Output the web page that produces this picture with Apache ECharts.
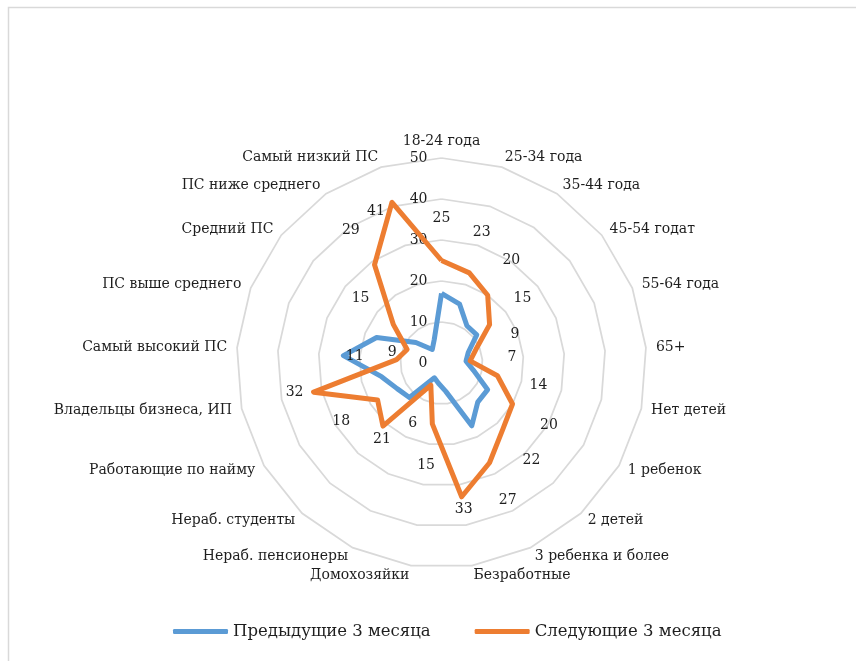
<!DOCTYPE html>
<html><head><meta charset="utf-8">
<script src="https://cdn.jsdelivr.net/npm/echarts@6/dist/echarts.min.js"></script>
<style>html,body{margin:0;padding:0;background:#fff}#c{width:856px;height:661px}</style>
</head><body><div id="c"></div>
<script>
const categories = ['18-24 года','25-34 года','35-44 года','45-54 годат','55-64 года','65+','Нет детей','1 ребенок','2 детей','3 ребенка и более','Безработные','Домохозяйки','Нераб. пенсионеры','Нераб. студенты','Работающие по найму','Владельцы бизнеса, ИП','Самый высокий ПС','ПС выше среднего','Средний ПС','ПС ниже среднего','Самый низкий ПС'];
const previous3m = [17,15,11,11,7,6,8,13,13,17,7,5,4,11.5,12.5,15,24,17,8,4,6];
const next3m = [25,23,20,15,9,7,14,20,22,27,33,15,6,21,18,32,11,9,15,29,41];
const seriesNames = ['Предыдущие 3 месяца','Следующие 3 месяца'];
const axisMin = 0, axisMax = 50, axisStep = 10;

const FONT = 'DejaVu Serif';
const TXT = '#1e1e1e';
const CENTER = [441.5, 363], RADIUS = 205;
const n = categories.length;
// ECharts radar runs counter-clockwise; reorder so categories run clockwise
const order = [0].concat(Array.from({length: n - 1}, (_, i) => n - 1 - i));
const cw = arr => order.map(i => arr[i]);

// data-label placement (pixel offsets): radial by default, a few moved as in the original
const labelAdjust = {10: [2, 13], 13: [-1, 13], 15: [-19, 0], 17: [-15, 3], 20: [-16, 9]};
const labelData = next3m.map((v, k) => {
  const a = k * 2 * Math.PI / n;
  const off = labelAdjust[k] || [42 * Math.sin(a), -42 * Math.cos(a)];
  return {value: [v, k], label: {offset: off}};
});

const chart = echarts.init(document.getElementById('c'), null, {renderer: 'canvas'});
chart.setOption({
  animation: false,
  backgroundColor: '#fff',
  graphic: [{type: 'rect', silent: true, z: -10,
    shape: {x: 8.5, y: 7.5, width: 1000, height: 1000},
    style: {fill: 'none', stroke: '#d9d9d9', lineWidth: 1.5}}],
  legend: {
    data: seriesNames, left: 173, top: 623, padding: 0, itemWidth: 55, itemHeight: 5, itemGap: 44,
    icon: 'roundRect',
    textStyle: {fontFamily: FONT, fontSize: 16.5, color: TXT}
  },
  radar: {
    center: CENTER, radius: RADIUS, startAngle: 90, shape: 'polygon', splitNumber: 5,
    indicator: cw(categories).map(name => ({name, min: axisMin, max: axisMax})),
    nameGap: 10,
    axisName: {color: TXT, fontFamily: FONT, fontSize: 14},
    splitLine: {lineStyle: {color: '#d9d9d9', width: 1.75}},
    splitArea: {show: false},
    axisLine: {show: false}, axisTick: {show: false}, axisLabel: {show: false}
  },
  polar: {center: CENTER, radius: RADIUS},
  angleAxis: {type: 'value', min: 0, max: n, startAngle: 90, clockwise: true,
    axisLine: {show: false}, axisTick: {show: false}, axisLabel: {show: false}, splitLine: {show: false}},
  radiusAxis: {type: 'value', min: axisMin, max: axisMax, interval: axisStep,
    axisLine: {show: false}, axisTick: {show: false}, splitLine: {show: false},
    axisLabel: {color: TXT, fontFamily: FONT, fontSize: 14, margin: 14}},
  series: [
    {type: 'radar', name: seriesNames[0], symbol: 'none', z: 2,
      data: [{name: seriesNames[0], value: cw(previous3m)}],
      lineStyle: {color: '#5B9BD5', width: 5, join: 'round'}, itemStyle: {color: '#5B9BD5'}},
    {type: 'radar', name: seriesNames[1], symbol: 'none', z: 3,
      data: [{name: seriesNames[1], value: cw(next3m)}],
      lineStyle: {color: '#ED7D31', width: 5, join: 'round'}, itemStyle: {color: '#ED7D31'}},
    {type: 'scatter', coordinateSystem: 'polar', symbolSize: 0, silent: true, z: 4,
      itemStyle: {opacity: 1, color: 'transparent'},
      data: labelData,
      label: {show: true, position: 'inside', formatter: p => String(p.value[0]),
        color: TXT, fontFamily: FONT, fontSize: 14, opacity: 1}}
  ]
});
</script></body></html>
